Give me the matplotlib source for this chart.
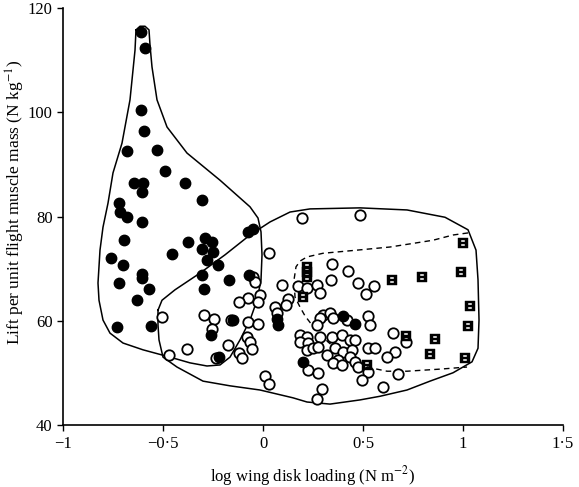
import numpy as np
import matplotlib
matplotlib.use("Agg")
import matplotlib.pyplot as plt
from matplotlib.path import Path

plt.rcParams['font.family'] = ['Liberation Serif', 'DejaVu Serif']
plt.rcParams['mathtext.fontset'] = 'stix'

# filled circles
filled_x = [-0.61, -0.59, -0.61, -0.595, -0.68, -0.53, -0.49, -0.645, -0.60, -0.605,
            -0.39, -0.305, -0.72, -0.715, -0.68, -0.605, -0.695, -0.375, -0.29, -0.255,
            -0.305, -0.25, -0.455, -0.76, -0.70, -0.72, -0.605, -0.605, -0.57, -0.63,
            -0.73, -0.56, -0.28, -0.225, -0.305, -0.17, -0.295, -0.075, -0.05, -0.07,
            -0.26, -0.22, -0.15, 0.07, 0.075, 0.20, 0.40, 0.46]
filled_y = [115.4, 112.3, 100.4, 96.4, 92.6, 92.8, 88.8, 86.5, 86.5, 84.7,
            86.5, 83.2, 82.6, 80.9, 79.9, 79.0, 75.5, 75.2, 75.9, 75.2,
            73.8, 73.2, 72.9, 72.1, 70.7, 67.3, 69.0, 68.2, 66.1, 64.0,
            58.9, 59.1, 71.7, 70.7, 68.8, 67.9, 66.1, 77.1, 77.6, 68.8,
            57.3, 53.1, 60.2, 60.4, 59.3, 52.2, 61.0, 59.5]

# open circles
open_x = [0.195, 0.485, 0.03, 0.345, 0.425, 0.34, 0.475, 0.555, 0.515, 0.095,
          0.175, 0.22, 0.27, 0.285, -0.05, -0.04, -0.015, -0.025, -0.075, -0.12,
          0.125, 0.115, 0.06, 0.07, -0.505, -0.295, -0.245, -0.16, -0.075, -0.025,
          -0.255, -0.08, -0.065, -0.055, -0.175, -0.38, -0.47, -0.12, -0.105, -0.235,
          0.01, 0.03, 0.30, 0.335, 0.285, 0.35, 0.42, 0.525, 0.535, 0.27,
          0.185, 0.22, 0.185, 0.225, 0.285, 0.345, 0.395, 0.435, 0.46, 0.22,
          0.25, 0.275, 0.32, 0.36, 0.40, 0.445, 0.435, 0.375, 0.35, 0.395,
          0.46, 0.475, 0.525, 0.495, 0.525, 0.56, 0.65, 0.66, 0.62, 0.675,
          0.60, 0.225, 0.275, 0.295, 0.27, 0.715]
open_y = [79.8, 80.4, 73.0, 70.9, 69.6, 67.9, 67.3, 66.7, 65.2, 66.9,
          66.7, 66.3, 66.9, 65.4, 68.4, 67.5, 65.0, 63.7, 64.4, 63.7,
          64.2, 63.1, 62.7, 61.6, 60.8, 61.2, 60.4, 60.2, 59.8, 59.4,
          58.5, 57.0, 56.0, 54.7, 55.4, 54.7, 53.5, 53.9, 52.9, 52.9,
          49.5, 47.9, 61.2, 61.6, 60.6, 60.6, 60.2, 61.0, 59.3, 59.3,
          57.3, 57.0, 56.0, 55.8, 57.0, 57.0, 57.3, 56.4, 56.4, 54.5,
          54.8, 55.0, 53.5, 54.8, 54.1, 54.5, 53.1, 52.5, 52.0, 51.6,
          52.2, 51.2, 50.2, 48.7, 54.8, 54.8, 57.7, 54.1, 53.1, 49.9,
          47.4, 50.6, 50.1, 47.0, 45.1, 56.0]

# squares
sq_x = [0.22, 0.22, 0.22, 0.20, 0.645, 0.795, 0.99, 1.00, 1.035, 1.025,
        0.715, 0.86, 0.835, 1.01, 0.52]
sq_y = [70.4, 69.4, 68.4, 64.6, 67.9, 68.4, 69.4, 75.0, 62.9, 59.1,
        57.1, 56.6, 53.7, 52.9, 51.6]

# envelope outlines
balloon_x = [-0.635, -0.615, -0.59, -0.57, -0.565, -0.555, -0.53, -0.48, -0.38, -0.215,
             -0.065, -0.025, -0.01, -0.005, -0.01, -0.03, -0.065, -0.115, -0.165, -0.215,
             -0.28, -0.365, -0.465, -0.60, -0.70, -0.765, -0.80, -0.82, -0.825, -0.815,
             -0.80, -0.775, -0.75, -0.705, -0.665, -0.64, -0.635]
balloon_y = [115.8, 116.5, 116.5, 115.8, 112.9, 108.7, 102.4, 97.2, 92.2, 87.0,
             81.9, 79.75, 77.1, 72.7, 67.9, 64.0, 60.2, 56.4, 53.1, 51.6,
             51.4, 52.0, 53.1, 54.5, 55.8, 57.7, 60.2, 64.0, 67.3, 73.6,
             78.0, 82.6, 88.4, 94.1, 102.4, 111.9, 115.8]

open_env_x = [-0.525, -0.505, -0.44, -0.315, -0.19, -0.065, 0.035, 0.135, 0.235, 0.485,
              0.72, 0.91, 1.025, 1.065, 1.075, 1.08, 1.075, 1.045, 0.95, 0.835,
              0.72, 0.585, 0.485, 0.335, 0.22, 0.15, -0.015, -0.165, -0.30, -0.43,
              -0.50, -0.52, -0.525, -0.525]
open_env_y = [62.1, 64.0, 66.0, 69.2, 72.7, 76.5, 79.0, 80.9, 81.5, 81.7,
              81.3, 79.9, 77.5, 73.6, 67.9, 60.2, 54.8, 52.2, 50.1, 48.5,
              46.8, 45.6, 44.9, 44.1, 44.5, 45.3, 46.8, 47.6, 48.5, 51.2,
              53.1, 56.4, 59.25, 62.1]

dash_x = [1.025, 0.95, 0.85, 0.735, 0.635, 0.47, 0.30, 0.22, 0.185, 0.165,
          0.155, 0.16, 0.185, 0.21, 0.245, 0.325, 0.425, 0.52, 0.62, 0.72,
          0.885, 1.02]
dash_y = [76.9, 76.5, 75.5, 74.8, 74.2, 73.6, 73.0, 72.3, 71.5, 70.4,
          67.9, 64.6, 62.7, 61.0, 59.25, 56.0, 52.9, 51.2, 50.4, 50.4,
          50.8, 51.2]

xticks = [-1, -0.5, 0, 0.5, 1, 1.5]
xticklabels = ['\u22121', '\u22120\u00b75', '0', '0\u00b75', '1', '1\u00b75']
yticks = [40, 60, 80, 100, 120]

# square marker with two white holes
outer = [(-1, -1), (1, -1), (1, 1), (-1, 1), (-1, -1)]
hole1 = [(-0.4, 0.15), (-0.4, 0.65), (0.4, 0.65), (0.4, 0.15), (-0.4, 0.15)]
hole2 = [(-0.4, -0.65), (-0.4, -0.15), (0.4, -0.15), (0.4, -0.65), (-0.4, -0.65)]
verts = outer + hole1 + hole2
codes = ([Path.MOVETO] + [Path.LINETO] * 3 + [Path.CLOSEPOLY]) * 3
sq_marker = Path(verts, codes)

fig = plt.figure(figsize=(5.79, 4.87), dpi=100)
ax = fig.add_axes([0.1088, 0.1263, 0.8636, 0.8573])

ax.plot(balloon_x, balloon_y, color='black', lw=1.1, zorder=1)
ax.plot(open_env_x, open_env_y, color='black', lw=1.1, zorder=1)
ax.plot(dash_x, dash_y, color='black', lw=1.0, linestyle=(0, (4, 3)), zorder=1)

ax.plot(open_x, open_y, 'o', ms=7.5, mfc='white', mec='black', mew=1.3, zorder=3)
ax.plot(filled_x, filled_y, 'o', ms=7.5, mfc='black', mec='black', zorder=4)
ax.plot(sq_x, sq_y, linestyle='none', marker=sq_marker, ms=7, mfc='black', mec='black',
        mew=0.3, zorder=5)

ax.set_xlim(-1, 1.5)
ax.set_ylim(40, 120)
ax.set_xticks(xticks)
ax.set_xticklabels(xticklabels)
ax.set_yticks(yticks)
ax.spines['top'].set_visible(False)
ax.spines['right'].set_visible(False)
ax.spines['left'].set_linewidth(1.2)
ax.spines['bottom'].set_linewidth(1.2)
ax.tick_params(direction='out', length=4, width=1.0, labelsize=12)

ax.set_xlabel('log wing disk loading (N m$^{-2}$)', fontsize=12, labelpad=9)
ax.set_ylabel('Lift per unit flight muscle mass (N kg$^{-1}$)', fontsize=12.5)
ax.yaxis.set_label_coords(-0.071, 0.535)

fig.savefig('out.png', dpi=100)
